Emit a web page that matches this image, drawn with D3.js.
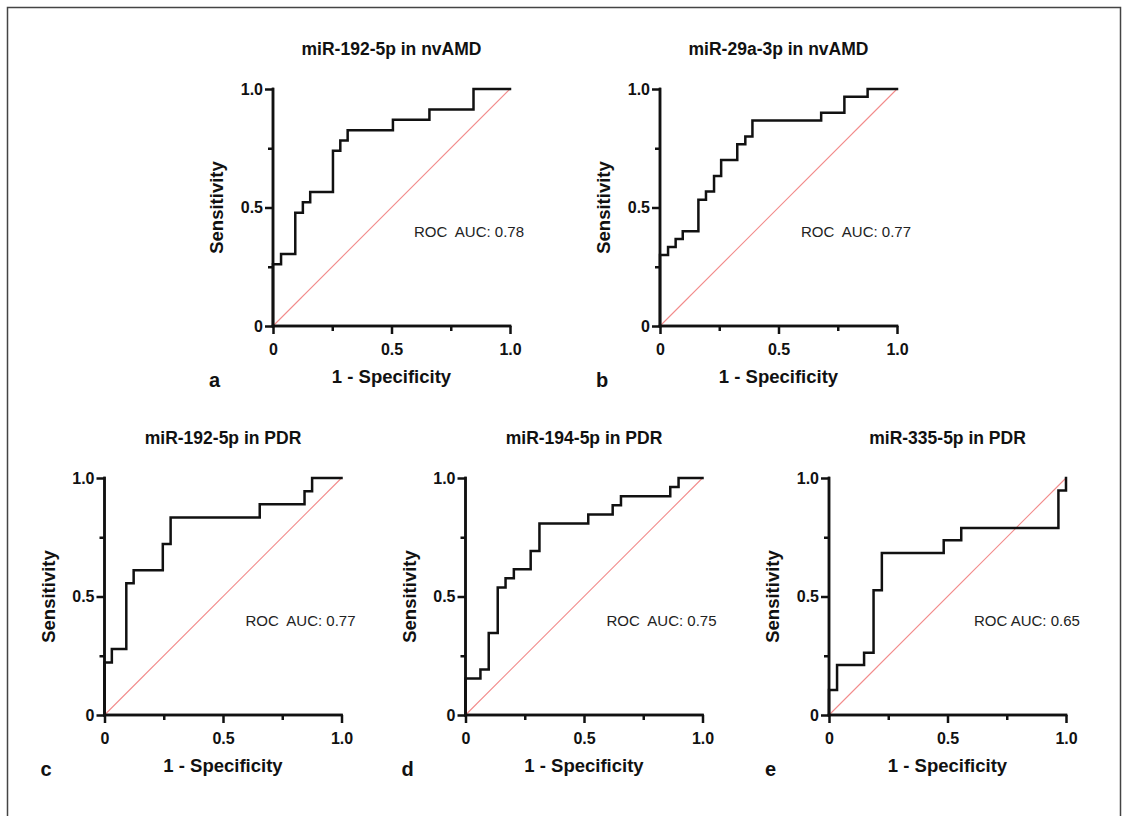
<!DOCTYPE html>
<html>
<head>
<meta charset="utf-8">
<script src="https://cdn.jsdelivr.net/npm/d3@7"></script>
<style>
    body { margin: 0; background: #fff; }
    text { font-family: "Liberation Sans", Arial, sans-serif; }
</style>
</head>
<body>
<svg id="chart" width="1126" height="816"></svg>
<script>
// ROC curves (1 - specificity, sensitivity)
const titles = ['miR-192-5p in nvAMD', 'miR-29a-3p in nvAMD', 'miR-192-5p in PDR', 'miR-194-5p in PDR', 'miR-335-5p in PDR'];
const panelLetters = ['a', 'b', 'c', 'd', 'e'];
const aucLabels = ['ROC  AUC: 0.78', 'ROC  AUC: 0.77', 'ROC  AUC: 0.77', 'ROC  AUC: 0.75', 'ROC AUC: 0.65'];

const fprA = [0, 0, 0.034, 0.094, 0.126, 0.157, 0.253, 0.284, 0.315, 0.506, 0.66, 0.846, 1];
const tprA = [0, 0.261, 0.304, 0.478, 0.522, 0.565, 0.739, 0.783, 0.826, 0.87, 0.913, 1, 1];

const fprB = [0, 0, 0.034, 0.066, 0.096, 0.162, 0.194, 0.228, 0.258, 0.326, 0.36, 0.39, 0.68, 0.778, 0.876, 1];
const tprB = [0, 0.3, 0.333, 0.367, 0.4, 0.533, 0.567, 0.633, 0.7, 0.767, 0.8, 0.867, 0.9, 0.967, 1, 1];

const fprC = [0, 0, 0.031, 0.092, 0.123, 0.246, 0.279, 0.655, 0.844, 0.876, 1];
const tprC = [0, 0.222, 0.278, 0.556, 0.611, 0.722, 0.833, 0.889, 0.944, 1, 1];

const fprD = [0, 0, 0.063, 0.098, 0.136, 0.169, 0.204, 0.275, 0.312, 0.518, 0.621, 0.656, 0.864, 0.899, 1];
const tprD = [0, 0.154, 0.192, 0.346, 0.538, 0.577, 0.615, 0.692, 0.808, 0.846, 0.885, 0.923, 0.962, 1, 1];

const fprE = [0, 0, 0.034, 0.148, 0.188, 0.223, 0.484, 0.558, 0.968, 1];
const tprE = [0, 0.105, 0.211, 0.263, 0.526, 0.684, 0.737, 0.789, 0.947, 1];

const curves = [[fprA, tprA], [fprB, tprB], [fprC, tprC], [fprD, tprD], [fprE, tprE]];

const majorTicks = [0, 0.5, 1];
const minorTicks = [0.25, 0.75];
const tickFormat = (d) => (d === 0 ? '0' : d3.format('.1f')(d));

// layout: plot-area origin of each panel
const panels = [
    { left: 273, top: 89 },
    { left: 660, top: 89 },
    { left: 104.5, top: 478 },
    { left: 465.5, top: 478 },
    { left: 829, top: 478 },
];
const W = 237;
const H = 237;

const svg = d3.select('#chart');

svg.append('rect')
    .attr('x', 7.5)
    .attr('y', 7.5)
    .attr('width', 1113)
    .attr('height', 840)
    .attr('fill', 'none')
    .attr('stroke', '#444')
    .attr('stroke-width', 1.5);

panels.forEach((p, i) =>
{
    const g = svg.append('g').attr('transform', `translate(${p.left},${p.top})`);

    const x = d3.scaleLinear().domain([0, 1]).range([0, W]);
    const y = d3.scaleLinear().domain([0, 1]).range([H, 0]);

    // chance diagonal
    g.append('line')
        .attr('x1', x(0)).attr('y1', y(0))
        .attr('x2', x(1)).attr('y2', y(1))
        .attr('stroke', '#f28b8b')
        .attr('stroke-width', 1.1);

    // axes: major ticks with labels, short minor ticks
    const xMajor = d3.axisBottom(x).tickValues(majorTicks).tickFormat(tickFormat).tickSize(8).tickPadding(6);
    const xMinor = d3.axisBottom(x).tickValues(minorTicks).tickFormat('').tickSize(5);
    const yMajor = d3.axisLeft(y).tickValues(majorTicks).tickFormat(tickFormat).tickSize(8).tickPadding(2);
    const yMinor = d3.axisLeft(y).tickValues(minorTicks).tickFormat('').tickSize(5);

    const gx = g.append('g').attr('transform', `translate(0,${H})`);
    gx.call(xMajor);
    gx.append('g').call(xMinor);
    const gy = g.append('g');
    gy.call(yMajor);
    gy.append('g').call(yMinor);

    g.selectAll('.domain, .tick line')
        .attr('stroke', '#111')
        .attr('stroke-width', 2.5);
    g.selectAll('.domain').attr('stroke-linecap', 'square');
    g.selectAll('.tick text')
        .attr('fill', '#111')
        .style('font-size', '16px')
        .style('font-weight', 'bold');
    gx.selectAll('.tick text').attr('dy', '0.95em');
    // d3 axes draw the domain with outer ticks; remove them
    gx.selectAll('.domain').attr('d', `M0,0H${W}`);
    gy.selectAll('.domain').attr('d', `M0,${H}V0`);

    // ROC curve
    const [fpr, tpr] = curves[i];
    const pts = fpr.map((f, k) => [f, tpr[k]]);
    const line = d3.line()
        .x((d) => x(d[0]))
        .y((d) => y(d[1]))
        .curve(d3.curveStepAfter);

    g.append('path')
        .attr('d', line(pts))
        .attr('fill', 'none')
        .attr('stroke', '#111')
        .attr('stroke-width', 2.5)
        .attr('stroke-linejoin', 'miter')
        .attr('stroke-linecap', 'square');

    // texts
    g.append('text')
        .attr('x', W / 2)
        .attr('y', -34)
        .attr('text-anchor', 'middle')
        .style('font-size', '17.5px')
        .style('font-weight', 'bold')
        .attr('fill', '#111')
        .text(titles[i]);

    g.append('text')
        .attr('x', W / 2)
        .attr('y', H + 57)
        .attr('text-anchor', 'middle')
        .style('font-size', '18.5px')
        .style('font-weight', 'bold')
        .attr('fill', '#111')
        .text('1 - Specificity');

    g.append('text')
        .attr('transform', `translate(-50,${H / 2}) rotate(-90)`)
        .attr('text-anchor', 'middle')
        .style('font-size', '18.5px')
        .style('font-weight', 'bold')
        .attr('fill', '#111')
        .text('Sensitivity');

    g.append('text')
        .attr('x', -64)
        .attr('y', H + 61)
        .style('font-size', '20px')
        .style('font-weight', 'bold')
        .attr('fill', '#111')
        .text(panelLetters[i]);

    g.append('text')
        .attr('x', i === 4 ? 145 : 141)
        .attr('y', y(0.4) + 6)
        .style('font-size', '15px')
        .style('white-space', 'pre')
        .attr('fill', '#222')
        .text(aucLabels[i]);
});
</script>
</body>
</html>
